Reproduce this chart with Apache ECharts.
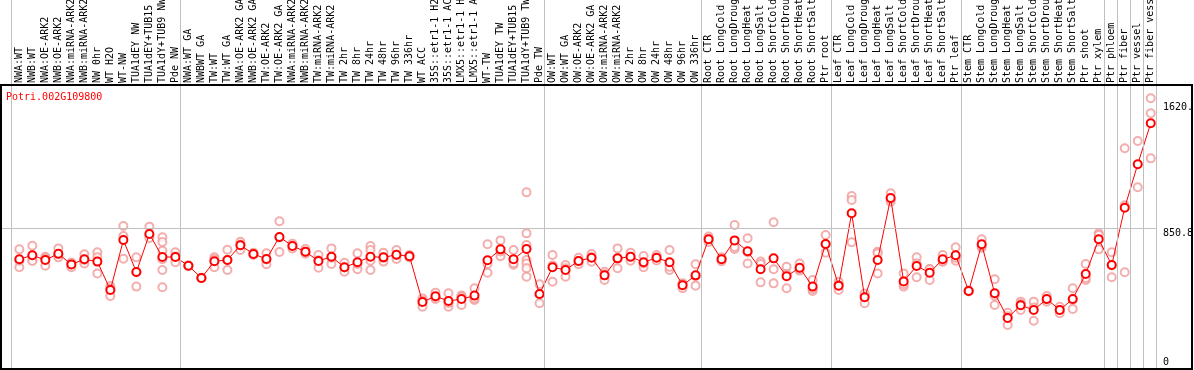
<!DOCTYPE html>
<html>
<head>
<meta charset="utf-8">
<script src="https://cdn.jsdelivr.net/npm/echarts@6/dist/echarts.min.js"></script>
<style>
html,body{margin:0;padding:0;background:#fff;}
#chart{width:1194px;height:370px;}
</style>
</head>
<body>
<div id="chart"></div>
<script>
var geneName = "Potri.002G109800";

var categories = [
  "NWA:WT","NWB:WT","NWA:OE-ARK2","NWB:OE-ARK2","NWA:miRNA-ARK2","NWB:miRNA-ARK2","NW 0hr","WT H2O","WT-NW","TUA1dEY NW","TUA1dEY+TUB15 NW","TUA1dY+TUB9 NW","Pde NW",
  "NWA:WT GA","NWBWT GA","TW:WT","TW:WT GA","NWA:OE-ARK2 GA","NWB:OE-ARK2 GA","TW:OE-ARK2","TW:OE-ARK2 GA","NWA:miRNA-ARK2","NWB:miRNA-ARK2","TW:miRNA-ARK2","TW:miRNA-ARK2",
  "TW 2hr","TW 8hr","TW 24hr","TW 48hr","TW 96hr","TW 336hr","WT ACC","35S::etr1-1 H2O","35S::etr1-1 ACC","LMX5::etr1-1 H2O","LMX5::etr1-1 ACC","WT-TW","TUA1dEY TW","TUA1dEY+TUB15 TW","TUA1dY+TUB9 TW","Pde TW",
  "OW:WT","OW:WT GA","OW:OE-ARK2","OW:OE-ARK2 GA","OW:miRNA-ARK2","OW:miRNA-ARK2","OW 2hr","OW 8hr","OW 24hr","OW 48hr","OW 96hr","OW 336hr",
  "Root CTR","Root LongCold","Root LongDrought","Root LongHeat","Root LongSalt","Root ShortCold","Root ShortDrought","Root ShortHeat","Root ShortSalt","Ptr root",
  "Leaf CTR","Leaf LongCold","Leaf LongDrought","Leaf LongHeat","Leaf LongSalt","Leaf ShortCold","Leaf ShortDrought","Leaf ShortHeat","Leaf ShortSalt","Ptr leaf",
  "Stem CTR","Stem LongCold","Stem LongDrought","Stem LongHeat","Stem LongSalt","Stem ShortCold","Stem ShortDrought","Stem ShortHeat","Stem ShortSalt","Ptr shoot","Ptr xylem",
  "Ptr phloem","Ptr fiber","Ptr vessel","Ptr fiber vessel"
];

var meanValues = [
  659,684,655,693,628,659,645,471,777,581,
  814,673,673,620,545,647,655,745,692,661,
  796,741,706,649,675,610,641,675,671,687,
  678,398,433,404,416,437,653,720,659,722,
  447,610,594,649,669,561,665,675,641,669,
  641,500,561,782,659,775,708,598,665,555,
  608,492,753,498,941,427,655,1034,524,618,
  577,659,684,465,751,451,300,378,349,416,
  349,416,569,782,624,975,1241,1492
];

var replicateValues = [
  [720,610,650],[742,655,649],[675,620,665],[726,671,690],[634,610,640],[690,634,655],[702,671,573],[496,435,480],[863,802,663],[671,492,580],
  [859,808,790],[794,765,712,659,594,488],[702,641,676],[620,618,622],[545,544,546],[671,610,660],[718,594,653],[767,716,750],[700,690,686],[696,629,658],
  [892,704,792],[726,742,755],[722,693,703],[686,608,653],[726,630,669],[638,583,609],[696,598,630],[741,716,594,650],[700,645,668],[716,661,684],
  [685,670,680],[420,369,405],[455,416,428],[451,369,392],[437,380,431],[482,410,419],[751,577,631],[775,678,707],[716,626,635],[1069,818,747,655,634,604,553],
  [506,390,445],[686,522,622],[624,553,605],[669,629,649],[692,671,644],[583,533,567],[726,604,665],[700,651,674],[679,610,634],[686,669,652],
  [716,594,613],[512,482,506],[629,498,556],[798,765,783],[671,659,647],[869,722,734],[788,634,702],[645,518,631],[886,598,512],[614,482,569],
  [634,590,600],[533,465,478],[808,700,751],[522,471,501],[1047,1022,763],[441,390,450],[706,696,573],[1063,1012,1027],[573,492,507],[671,549,634],
  [600,533,598],[686,645,646],[733,651,668],[468,462,465],[782,730,741],[537,380,436],[332,257,311],[400,349,385],[400,283,364],[435,400,413],
  [369,329,349],[482,355,411],[630,533,544],[818,720,808],[702,549,621],[1339,990,580],[1383,1100],[1645,1553,1277]
];

// last category index of each group (separator drawn just after it)
var groupEnds = [-1, 12, 40, 52, 62, 72, 83, 84, 85, 86, 87];

var yTickLabels = [
  {value: 1620, text: "1620."},
  {value: 850.8, text: "850.8"},
  {value: 0, text: "0"}
];
var referenceLineValue = 850.8;

var mono = "DejaVu Sans Mono";
var xMin = -1.41, xMax = 87.4, yMax = 1726;

var meanData = meanValues.map(function(v, i){ return [i, v]; });
var repData = [];
replicateValues.forEach(function(arr, i){ arr.forEach(function(v){ repData.push([i, v]); }); });

var sepLines = groupEnds.map(function(g){ return {xAxis: g + 0.4}; });

var yMarks = yTickLabels.map(function(t){
  var isRef = t.value === referenceLineValue;
  return {
    yAxis: t.value,
    lineStyle: {color: isRef ? '#c0c0c0' : 'rgba(255,255,255,0)', width: 1, type: 'solid'},
    label: {show: true, position: 'end', distance: 7, formatter: t.text,
            color: '#000', fontFamily: mono, fontSize: 10,
            offset: [0, t.value === 0 ? -5 : 5]}
  };
});

var chart = echarts.init(document.getElementById('chart'), null, {renderer: 'canvas'});
chart.setOption({
  animation: false,
  backgroundColor: '#fff',
  grid: [
    {left: 1, right: 38.06, top: 85, bottom: 3, containLabel: false, outerBoundsMode: 'none'},   // plot
    {left: 1, right: 38.06, top: 0, bottom: 1, containLabel: false, outerBoundsMode: 'none'},    // separators full height
    {left: 12.8, right: 36.8, top: 85, bottom: 3, containLabel: false, outerBoundsMode: 'none'}  // category labels
  ],
  xAxis: [
    {type: 'value', gridIndex: 0, min: xMin, max: xMax, show: false},
    {type: 'value', gridIndex: 1, min: xMin, max: xMax, show: false},
    {type: 'category', gridIndex: 2, position: 'top', data: categories, boundaryGap: true,
     axisLine: {show: false}, axisTick: {show: false}, splitLine: {show: false},
     axisLabel: {interval: 0, rotate: 90, margin: 2, color: '#000', fontFamily: mono, fontSize: 10}}
  ],
  yAxis: [
    {type: 'value', gridIndex: 0, min: 0, max: yMax, show: false},
    {type: 'value', gridIndex: 1, min: 0, max: 1, show: false},
    {type: 'value', gridIndex: 2, min: 0, max: 1, show: false}
  ],
  series: [
    {
      type: 'scatter', xAxisIndex: 1, yAxisIndex: 1, data: [], z: 1, silent: true,
      markLine: {silent: true, symbol: 'none', animation: false,
                 lineStyle: {color: '#c0c0c0', width: 1, type: 'solid'},
                 label: {show: false}, data: sepLines}
    },
    {
      type: 'scatter', xAxisIndex: 0, yAxisIndex: 0, data: repData, z: 2,
      symbol: 'emptyCircle', symbolSize: 8,
      itemStyle: {color: '#f09a9a', borderColor: '#f09a9a', borderWidth: 1}
    },
    {
      type: 'line', xAxisIndex: 0, yAxisIndex: 0, data: meanData, z: 3,
      symbol: 'emptyCircle', symbolSize: 8, showAllSymbol: true,
      lineStyle: {color: '#ff0000', width: 1},
      itemStyle: {color: '#ff0000', borderColor: '#ff0000', borderWidth: 1.4},
      markLine: {silent: true, symbol: 'none', animation: false, data: yMarks}
    }
  ],
  graphic: [
    {type: 'rect', z: 100, silent: true,
     shape: {x: 1, y: 85, width: 1191, height: 284},
     style: {fill: 'none', stroke: '#000', lineWidth: 2}},
    {type: 'text', z: 200, silent: true, left: 6, top: 92,
     style: {text: geneName, fill: '#ff0000', font: '10px "DejaVu Sans Mono"'}}
  ]
});
</script>
</body>
</html>
